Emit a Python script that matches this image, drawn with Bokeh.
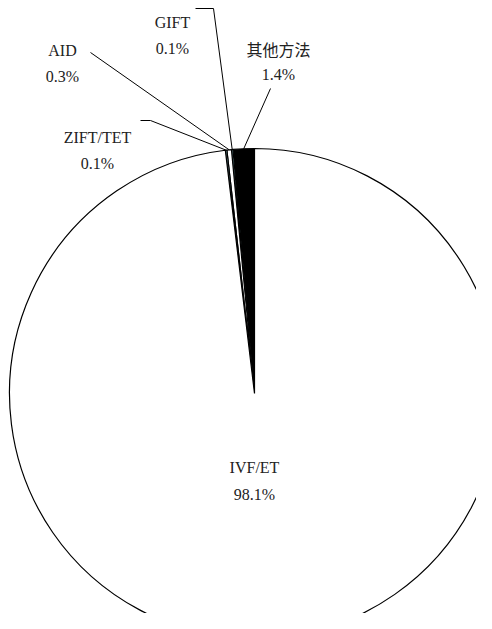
import numpy as np
from bokeh.plotting import figure
from bokeh.models import Range1d
from bokeh.core.properties import value
from bokeh.embed import file_html
from bokeh.resources import INLINE

labels = ["其他方法", "GIFT", "AID", "ZIFT/TET", "IVF/ET"]
pcts = [1.4, 0.1, 0.3, 0.1, 98.1]
colors = ["black", "#a8e8f0", "white", "#a8e8f0", "white"]

W, H = 476, 613
p = figure(width=W, height=H, output_backend="svg", toolbar_location=None,
           x_range=Range1d(0, W), y_range=Range1d(629 - H, 629),
           min_border=0, outline_line_color=None)
p.axis.visible = False
p.grid.visible = False

cx, cy, r = 254, 629 - 393, 245
frac = np.array(pcts) / sum(pcts)
ends = np.pi / 2 + np.cumsum(frac) * 2 * np.pi
starts = np.concatenate([[np.pi / 2], ends[:-1]])
p.wedge(x=cx, y=cy, radius=r, start_angle=starts, end_angle=ends,
        fill_color=colors, line_color="black", line_width=1.2)

serif = value("Liberation Serif")
cjk = value("Noto Sans CJK TC")
# label positions (screen coords) and leader-line anchors
lab_pos = [(278, 48), (172, 22), (62, 50), (97, 137)]
line_pts = [[(270, 88)], [(195, 8), (213, 8)], [(90, 52)], [(140, 120), (150, 120)]]
for i in range(4):
    mid = (starts[i] + ends[i]) / 2
    ex, ey = cx + r * np.cos(mid), cy + r * np.sin(mid)
    xs = [q[0] for q in line_pts[i]] + [ex]
    ys = [629 - q[1] for q in line_pts[i]] + [ey]
    p.line(xs, ys, line_color="black", line_width=1)
    lx, ly = lab_pos[i]
    p.text(x=[lx], y=[629 - ly], text=[labels[i]],
           text_font=cjk if i == 0 else serif, text_font_size="16px",
           text_align="center", text_baseline="middle", text_color="#222222")
    p.text(x=[lx], y=[629 - ly - 26], text=[f"{pcts[i]}%"],
           text_font=serif, text_font_size="16px", text_align="center",
           text_baseline="middle", text_color="#222222")

p.text(x=[cx, cx], y=[629 - 467, 629 - 494], text=[labels[4], f"{pcts[4]}%"],
       text_font=serif, text_font_size="16px", text_align="center",
       text_baseline="middle", text_color="#222222")

open("out.html", "w").write(file_html(p, INLINE))
